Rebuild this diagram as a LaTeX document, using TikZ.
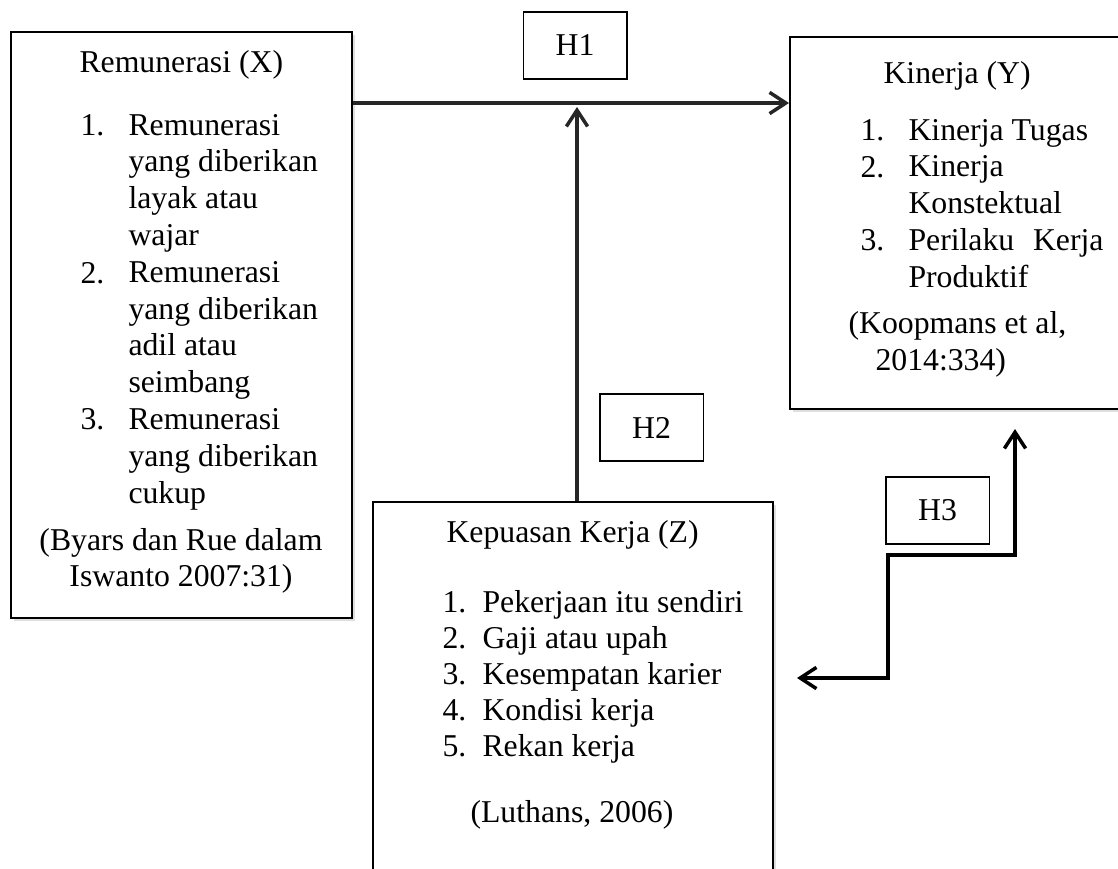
\documentclass[tikz,border=0pt]{standalone}
\usepackage{fontspec}
\setmainfont{Liberation Serif}
\usetikzlibrary{arrows.meta,shadows}

\tikzset{
  varbox/.style={draw, line width=0.8pt, fill=white,
    drop shadow={shadow xshift=1.2pt, shadow yshift=-1.2pt, opacity=0.25}},
  hbox/.style={draw, line width=0.6pt, minimum width=41.4pt, minimum height=26.8pt, inner sep=0pt},
  conn/.style={line width=1.4pt, draw=black!85, -{Straight Barb[length=6.5pt,width=8.5pt]}},
  conn2/.style={line width=1.4pt, draw=black, {Straight Barb[length=6.5pt,width=8.5pt]}-{Straight Barb[length=6.5pt,width=8.5pt]}},
}

\begin{document}
\begin{tikzpicture}[x=0.4pt, y=-0.4pt, every node/.style={font=\fontsize{12.7}{14.7}\selectfont}]
  \useasboundingbox (0,0) rectangle (1118,868);

  % kotak variabel
  \node[varbox, minimum width=136.4pt, minimum height=234.4pt] (remun)   at (181.5,325) {};
  \node[varbox, minimum width=132.8pt, minimum height=148.8pt] (kinerja) at (956,223) {};
  \node[varbox, minimum width=160pt,   minimum height=159.2pt] (puas)    at (573,701) {};

  % kotak hipotesis
  \node[hbox] (h1) at (575,45.5)  {H1};
  \node[hbox] (h2) at (651.5,427.5) {H2};
  \node[hbox] (h3) at (937.5,510.5) {H3};

  \begin{scope}[every node/.append style={anchor=base west, inner sep=0pt}]
    % Remunerasi (X)
    \node (xt) at (79,72) {Remunerasi (X)};
    \foreach \n/\yy in {1/135, 2/283, 3/429}
      \node (xn\n) at (80,\yy) {\n.};
    \foreach \txt [count=\i] in {Remunerasi, yang diberikan, layak atau, wajar,
        Remunerasi, yang diberikan, adil atau, seimbang,
        Remunerasi, yang diberikan, cukup}
      \node (xl\i) at (128,{135+36.8*(\i-1)}) {\txt};
    \node[anchor=base] (xs1) at (181,550) {(Byars dan Rue dalam};
    \node[anchor=base] (xs2) at (181,586) {Iswanto 2007:31)};

    % Kinerja (Y)
    \node (yt) at (883,83) {Kinerja (Y)};
    \foreach \n/\yy in {1/140, 2/177, 3/250}
      \node (yn\n) at (860,\yy) {\n.};
    \foreach \txt [count=\i] in {Kinerja Tugas, Kinerja, Konstektual,
        {\makebox[78pt][s]{Perilaku Kerja}}, Produktif}
      \node (yl\i) at (908,{140+36.8*(\i-1)}) {\txt};
    \node (ys1) at (848,333) {(Koopmans et al,};
    \node (ys2) at (875,370) {2014:334)};

    % Kepuasan Kerja (Z)
    \node (zt) at (446,542) {Kepuasan Kerja (Z)};
    \foreach \txt [count=\i] in {Pekerjaan itu sendiri, Gaji atau upah,
        Kesempatan karier, Kondisi kerja, Rekan kerja}
    {
      \node (zn\i) at (442,{612+36*(\i-1)}) {\i.};
      \node (zl\i) at (482,{612+36*(\i-1)}) {\txt};
    }
    \node (zs) at (470,822) {(Luthans, 2006)};
  \end{scope}

  % panah hubungan
  \coordinate (h1y) at (0,103);
  \coordinate (h2x) at (577,0);
  \coordinate (h3a) at (797,678);
  \coordinate (h3m) at (888,555);
  \coordinate (h3b) at (1015,429);

  \draw[conn] (remun.east |- h1y) -- (kinerja.west |- h1y);
  \draw[conn, shorten >=1.6pt] (puas.north -| h2x) -- (h2x |- h1y);
  \draw[conn2] (h3a) -| (h3m) -| (h3b);

\end{tikzpicture}
\end{document}
